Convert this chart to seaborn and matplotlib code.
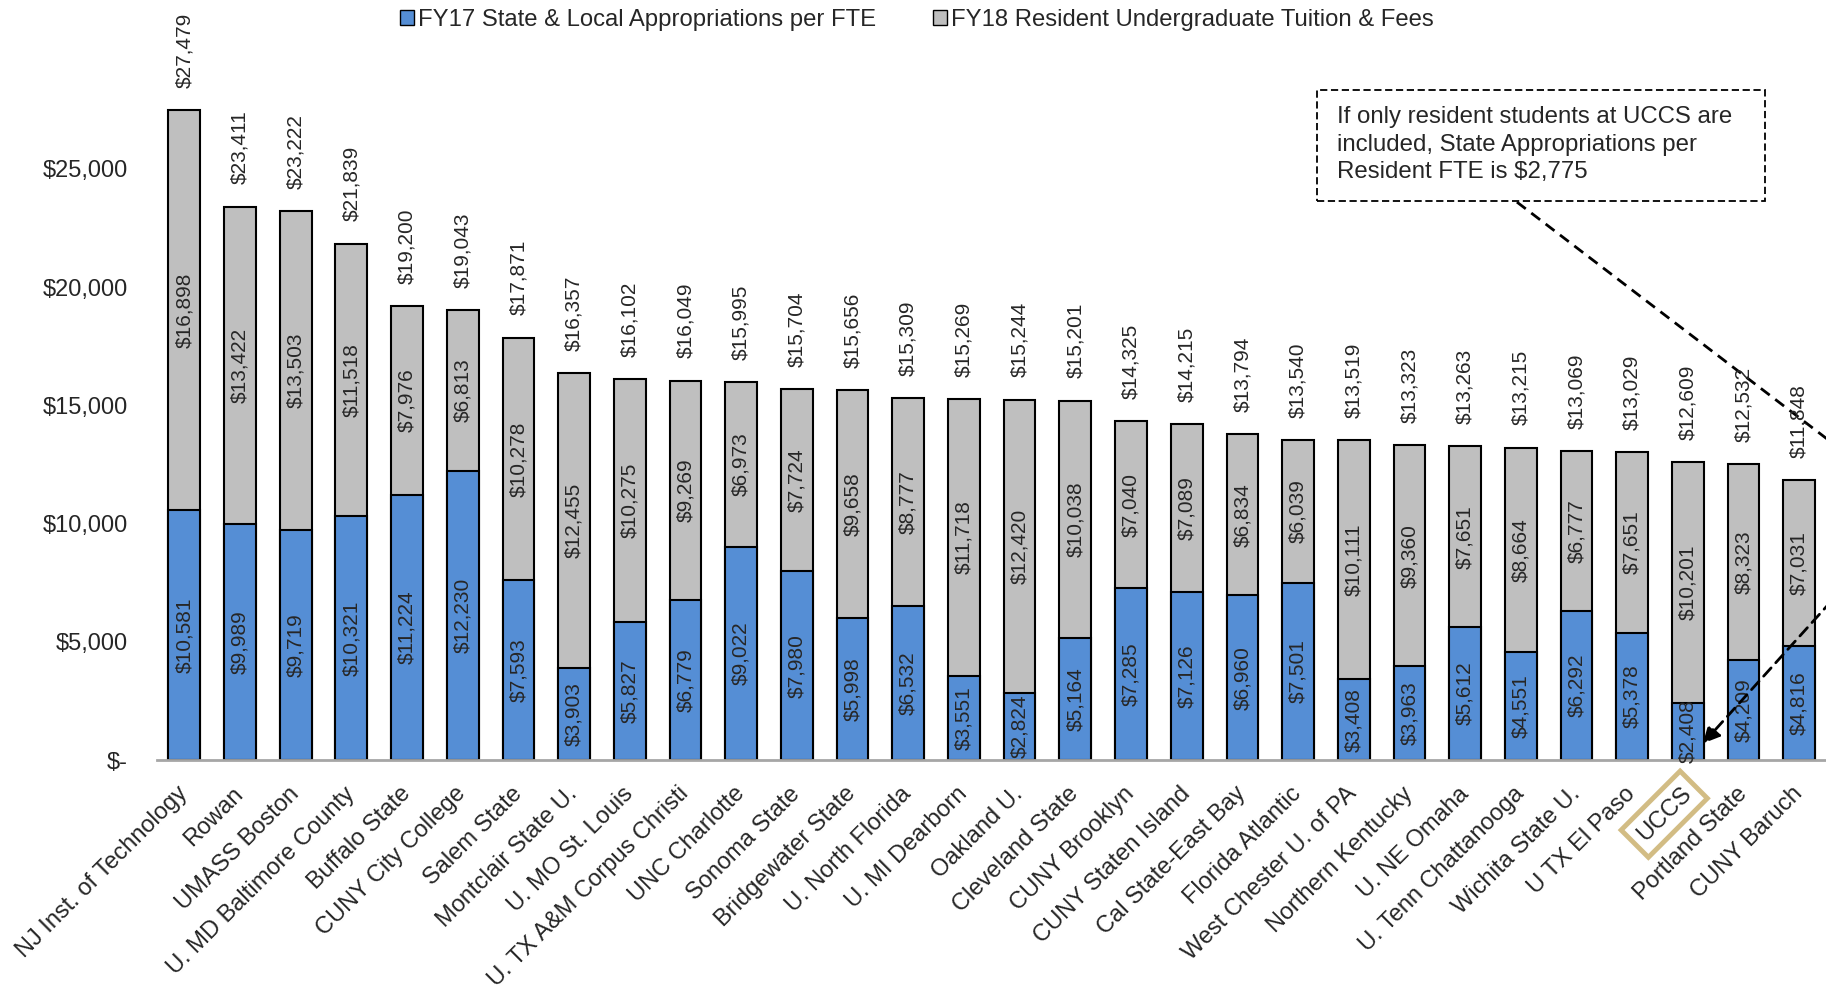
import matplotlib
matplotlib.use("Agg")
import matplotlib.pyplot as plt
import matplotlib.patches as mpatches
import seaborn as sns
import pandas as pd


## DATOS ##

schools = ["NJ Inst. of Technology", "Rowan", "UMASS Boston", "U. MD Baltimore County",
           "Buffalo State", "CUNY City College", "Salem State", "Montclair State U.",
           "U. MO St. Louis", "U. TX A&M Corpus Christi", "UNC Charlotte", "Sonoma State",
           "Bridgewater State", "U. North Florida", "U. MI Dearborn", "Oakland U.",
           "Cleveland State", "CUNY Brooklyn", "CUNY Staten Island", "Cal State-East Bay",
           "Florida Atlantic", "West Chester U. of PA", "Northern Kentucky", "U. NE Omaha",
           "U. Tenn Chattanooga", "Wichita State U.", "U TX El Paso", "UCCS",
           "Portland State", "CUNY Baruch"]

approp = [10581, 9989, 9719, 10321, 11224, 12230, 7593, 3903, 5827, 6779,
          9022, 7980, 5998, 6532, 3551, 2824, 5164, 7285, 7126, 6960,
          7501, 3408, 3963, 5612, 4551, 6292, 5378, 2408, 4209, 4816]

tuition = [16898, 13422, 13503, 11518, 7976, 6813, 10278, 12455, 10275, 9269,
           6973, 7724, 9658, 8777, 11718, 12420, 10038, 7040, 7089, 6834,
           6039, 10111, 9360, 7651, 8664, 6777, 7651, 10201, 8323, 7031]

totals = [27479, 23411, 23222, 21839, 19200, 19043, 17871, 16357, 16102, 16049,
          15995, 15704, 15656, 15309, 15269, 15244, 15201, 14325, 14215, 13794,
          13540, 13519, 13323, 13263, 13215, 13069, 13029, 12609, 12532, 11848]

yticks = [0, 5000, 10000, 15000, 20000, 25000]

legend_labels = ["FY17 State & Local Appropriations per FTE",
                 "FY18 Resident Undergraduate Tuition & Fees"]
note = ("If only resident students at UCCS are\n"
        "included, State Appropriations per\n"
        "Resident FTE is $2,775")
highlight = "UCCS"

BLUE = "#558ED5"
GRAY = "#BFBFBF"
TAN = "#D2BC84"


def money(v):
    # formato contable de Excel
    return "$-" if v == 0 else f"${v:,.0f}"


df = pd.DataFrame({"school": schools, "approp": approp, "tuition": tuition})
df["stack"] = df["approp"] + df["tuition"]

sns.set_style("white")
plt.rcParams["font.family"] = ["Liberation Sans", "DejaVu Sans"]

fig = plt.figure(figsize=(18.26, 9.88), dpi=100)
ax = fig.add_axes([157 / 1826, 228 / 988, 1 - 157 / 1826, 0.7657])

# barras apiladas: primero el total (gris), encima la parte azul
sns.barplot(data=df, x="school", y="stack", color=GRAY, saturation=1, width=0.57,
            edgecolor="black", linewidth=1.5, ax=ax)
sns.barplot(data=df, x="school", y="approp", color=BLUE, saturation=1, width=0.57,
            edgecolor="black", linewidth=1.5, ax=ax)

fs_lab = 15     # etiquetas de datos
fs_tick = 17    # ejes
for i, row in df.iterrows():
    ax.text(i, row["approp"] / 2, money(row["approp"]), rotation=90,
            ha="center", va="center", fontsize=fs_lab)
    ax.text(i, row["approp"] + row["tuition"] / 2, money(row["tuition"]), rotation=90,
            ha="center", va="center", fontsize=fs_lab)
    ax.annotate(money(totals[i]), (i, row["stack"]), xytext=(0, 16),
                textcoords="offset points", rotation=90, ha="center", va="bottom",
                fontsize=fs_lab, annotation_clip=False)

ax.set_xlim(-0.49, 29.48)
ax.set_ylim(0, 32000)
ax.set_yticks(yticks)
ax.set_yticklabels([money(v) for v in yticks], fontsize=fs_tick)
ax.tick_params(axis="y", length=0, pad=21)
ax.tick_params(axis="x", length=0, pad=22)
ax.set_xlabel("")
ax.set_ylabel("")

ax.set_xticks(range(len(schools)))
ax.set_xticklabels(schools, rotation=45, ha="right", va="center",
                   rotation_mode="anchor", fontsize=fs_tick)
for lab in ax.get_xticklabels():
    if lab.get_text() == highlight:
        lab.set_bbox(dict(boxstyle="square,pad=0.35", fc="none", ec=TAN, lw=3.5))

for s in ["top", "right", "left"]:
    ax.spines[s].set_visible(False)
ax.spines["bottom"].set_color("#A6A6A6")
ax.spines["bottom"].set_linewidth(2)

# leyenda
handles = [mpatches.Patch(facecolor=BLUE, edgecolor="black", lw=1),
           mpatches.Patch(facecolor=GRAY, edgecolor="black", lw=1)]
fig.legend(handles, legend_labels, loc="upper center", bbox_to_anchor=(0.502, 1.013),
           ncol=2, frameon=False, fontsize=17.2, handlelength=0.6, handleheight=0.6,
           handletextpad=0.15, columnspacing=2.4)

# cuadro de nota
fig.patches.append(mpatches.Rectangle((1317 / 1826, 1 - 201 / 988), 448 / 1826, 111 / 988,
                                      transform=fig.transFigure, fill=False, ec="black",
                                      lw=1.3, ls=(0, (4, 2))))
fig.text(1337 / 1826, 1 - 106 / 988, note, ha="left", va="top", fontsize=17.3,
         linespacing=1.33)

# flecha discontinua hacia UCCS
u = schools.index(highlight)
start = (23.93, 23600)
corner = (31.1, 10700)
tip = (u + 0.27, 700)
ax.plot([start[0], corner[0]], [start[1], corner[1]], color="black", lw=2,
        ls=(0, (4, 2.5)), clip_on=False)
ax.annotate("", xy=tip, xytext=corner, annotation_clip=False,
            arrowprops=dict(arrowstyle="-|>,head_length=1.0,head_width=0.5",
                            color="black", lw=2, ls=(0, (4, 2.5)), shrinkA=0, shrinkB=0))

fig.savefig("out.png", dpi=100)
